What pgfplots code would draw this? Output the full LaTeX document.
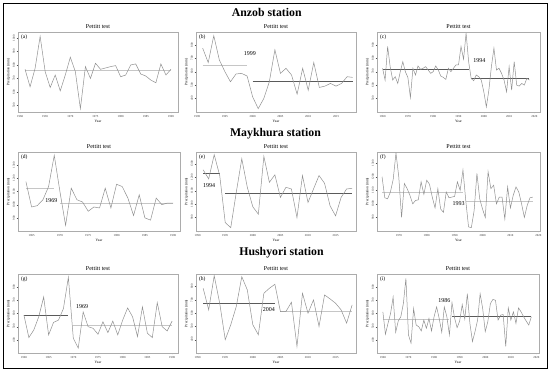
\documentclass[border=0pt]{standalone}
\usepackage{pgfplots}
\pgfplotsset{compat=1.18}
\usepackage{fontspec}
\setmainfont{Liberation Serif}
\definecolor{ser}{HTML}{909090}
\definecolor{mn}{HTML}{5A5A5A}
\tikzset{
  letter/.style={font=\fontsize{5.5}{6}\selectfont, anchor=north west, inner sep=0.5pt},
  cpl/.style={font=\fontsize{6}{7}\selectfont, inner sep=0.5pt},
  station/.style={font=\bfseries\fontsize{11.8}{13}\selectfont},
}
\pgfplotsset{
  /pgf/number format/set thousands separator={},
  /pgf/number format/assume math mode=true,
  panel/.style={
    scale only axis, anchor=south west,
    axis line style={gray!65, line width=0.4pt},
    tick style={gray!60!black, line width=0.3pt},
    major tick length=1.4pt,
    tick align=outside,
    xtick pos=left, ytick pos=left,
    tick label style={font=\fontsize{3}{3.5}\selectfont, text=black!80},
    yticklabel style={rotate=90, anchor=south, inner sep=1.5pt},
    xticklabel style={inner sep=1.8pt},
    label style={font=\fontsize{3.6}{4}\selectfont, inner sep=1pt},
    xlabel={Year}, ylabel={Precipitation (mm)},
    title={Pettitt test},
    title style={font=\fontsize{6}{7}\selectfont, yshift=-3pt, inner sep=0pt},
  },
  series/.style={ser, line width=0.5pt, no marks},
  mean/.style={mn, line width=0.55pt, no marks},
  lmean/.style={gray!45, line width=0.55pt, no marks},
}
\begin{document}
\begin{tikzpicture}[x=1pt,y=1pt]
\useasboundingbox (0,0) rectangle (550,-372);
\draw[line width=1pt] (3,-3.5) rectangle (547,-368.5);
\node[station] at (266.7,-12.7) {Anzob station};
\node[station] at (275.5,-134) {Maykhura station};
\node[station] at (281.5,-252.3) {Hushyori station};

% (a)
\begin{axis}[panel, at={(18pt,-112pt)}, width=160pt, height=80pt,
  xmin=1959.6, xmax=1991.4, ymin=450, ymax=1045,
  xtick={1960,1965,...,1990}, ytick={500,600,...,1000}]
\addplot[lmean] coordinates {(1961,762.5)(1990,762.5)};
\addplot[series] coordinates {(1961,767.5)(1962,637.5)(1963,775)(1964,1012.5)(1965,750)(1966,632.5)(1967,725)(1968,607.5)(1969,725)(1970,857.5)(1971,750)(1972,475)(1973,787.5)(1974,700)(1975,812.5)(1976,767.5)(1977,777.5)(1978,787.5)(1979,795)(1980,712.5)(1981,725)(1982,800)(1983,807.5)(1984,732.5)(1985,717.5)(1986,687.5)(1987,667.5)(1988,807.5)(1989,725)(1990,767.5)};
\node[letter] at (rel axis cs:0.015,0.97) {(a)};
\end{axis}

% (b)
\begin{axis}[panel, at={(196pt,-112pt)}, width=160pt, height=80pt,
  xmin=1989.8, xmax=2018.6, ymin=300, ymax=895,
  xtick={1990,1995,...,2015}, ytick={400,500,...,800}]
\addplot[lmean] coordinates {(1991,650)(1999,650)};
\addplot[mean] coordinates {(2000,530)(2018,530)};
\addplot[series] coordinates {(1991,775)(1992,667.5)(1993,867.5)(1994,687.5)(1995,600)(1996,525)(1997,582.5)(1998,587.5)(1999,567.5)(2000,412.5)(2001,325)(2002,400)(2003,525)(2004,762.5)(2005,587.5)(2006,625)(2007,575)(2008,432.5)(2009,625)(2010,462.5)(2011,667.5)(2012,482.5)(2013,492.5)(2014,512.5)(2015,492.5)(2016,512.5)(2017,562.5)(2018,557.5)};
\node[letter] at (rel axis cs:0.015,0.97) {(b)};
\node[cpl] at (axis cs:1999.5,737.5) {1999};
\end{axis}

% (c)
\begin{axis}[panel, at={(377pt,-112pt)}, width=163pt, height=80pt,
  xmin=1957.8, xmax=2022.2, ymin=400, ymax=995,
  xtick={1960,1970,...,2020}, ytick={500,600,...,900}]
\addplot[mean] coordinates {(1960,720)(1994,720)};
\addplot[mean] coordinates {(1995,647.5)(2018,647.5)};
\addplot[series] coordinates {(1960,725)(1961,637.5)(1962,887.5)(1963,737.5)(1964,637.5)(1965,662.5)(1966,612.5)(1967,700)(1968,775)(1969,700)(1970,657.5)(1971,507.5)(1972,725)(1973,675)(1974,742.5)(1975,717.5)(1976,725)(1977,737.5)(1978,712.5)(1979,687.5)(1980,700)(1981,742.5)(1982,712.5)(1983,667.5)(1984,657.5)(1985,642.5)(1986,725)(1987,700)(1988,725)(1989,750)(1990,750)(1991,887.5)(1992,792.5)(1993,987.5)(1994,775)(1995,650)(1996,632.5)(1997,675)(1998,662.5)(1999,637.5)(2000,550)(2001,437.5)(2002,562.5)(2003,737.5)(2004,875)(2005,712.5)(2006,725)(2007,687.5)(2008,637.5)(2009,550)(2010,737.5)(2011,562.5)(2012,775)(2013,600)(2014,592.5)(2015,612.5)(2016,600)(2017,650)(2018,637.5)};
\node[letter] at (rel axis cs:0.015,0.97) {(c)};
\node[cpl] at (axis cs:1998.2,780) {1994};
\end{axis}

% (d)
\begin{axis}[panel, at={(18pt,-231pt)}, width=162pt, height=79pt,
  xmin=1962.6, xmax=1991.2, ymin=800, ymax=1400,
  xtick={1965,1970,...,1990}, ytick={900,1000,...,1300}]
\addplot[lmean] coordinates {(1964,1125)(1969,1125)};
\addplot[lmean] coordinates {(1970,1012.5)(1990,1012.5)};
\addplot[series] coordinates {(1964,1175)(1965,982.5)(1966,992.5)(1967,1037.5)(1968,1137.5)(1969,1375)(1970,1100)(1971,842.5)(1972,1125)(1973,1037.5)(1974,1020)(1975,950)(1976,982.5)(1977,975)(1978,1125)(1979,975)(1980,1155)(1981,1137.5)(1982,1050)(1983,917.5)(1984,1075)(1985,900)(1986,882.5)(1987,1050)(1988,1000)(1989,1012.5)(1990,1012.5)};
\node[letter] at (rel axis cs:0.015,0.97) {(d)};
\node[cpl] at (axis cs:1968.5,1030) {1969};
\end{axis}

% (e)
\begin{axis}[panel, at={(196pt,-231pt)}, width=160pt, height=79pt,
  xmin=1989.7, xmax=2018.7, ymin=800, ymax=1387.5,
  xtick={1990,1995,...,2015}, ytick={900,1000,...,1300}]
\addplot[mean] coordinates {(1991,1230)(1994,1230)};
\addplot[mean] coordinates {(1995,1080)(2018,1080)};
\addplot[series] coordinates {(1991,1255)(1992,1187.5)(1993,1367.5)(1994,1212.5)(1995,862.5)(1996,825)(1997,1087.5)(1998,1337.5)(1999,1125)(2000,980)(2001,925)(2002,1355)(2003,1162.5)(2004,1217.5)(2005,1050)(2006,1125)(2007,1112.5)(2008,900)(2009,1212.5)(2010,1012.5)(2011,1112.5)(2012,1212.5)(2013,1155)(2014,987.5)(2015,912.5)(2016,1050)(2017,1112.5)(2018,1117.5)};
\node[letter] at (rel axis cs:0.015,0.97) {(e)};
\node[cpl] at (axis cs:1992.1,1137.5) {1994};
\end{axis}

% (f)
\begin{axis}[panel, at={(377pt,-231pt)}, width=163pt, height=79pt,
  xmin=1962.2, xmax=2020.6, ymin=800, ymax=1382.5,
  xtick={1970,1980,...,2020}, ytick={900,1000,...,1300}]
\addplot[lmean] coordinates {(1964,1087.5)(1993,1087.5)};
\addplot[lmean] coordinates {(1994,1020)(2018,1020)};
\addplot[series] coordinates {(1964,1200)(1965,1045)(1966,1037.5)(1967,1087.5)(1968,1180)(1969,1375)(1970,1200)(1971,900)(1972,1150)(1973,1112.5)(1974,1062.5)(1975,1000)(1976,1025)(1977,1030)(1978,1162.5)(1979,1070)(1980,1175)(1981,1145)(1982,1050)(1983,970)(1984,1112.5)(1985,962.5)(1986,937.5)(1987,1087.5)(1988,1045)(1989,1050)(1990,1055)(1991,1162.5)(1992,1100)(1993,1250)(1994,1025)(1995,830)(1996,825)(1997,950)(1998,1225)(1999,1037.5)(2000,962.5)(2001,900)(2002,1237.5)(2003,1112.5)(2004,1137.5)(2005,1000)(2006,1050)(2007,1050)(2008,887.5)(2009,1125)(2010,970)(2011,1062.5)(2012,1125)(2013,1087.5)(2014,1000)(2015,900)(2016,987.5)(2017,1045)(2018,1050)};
\node[letter] at (rel axis cs:0.015,0.97) {(f)};
\node[cpl] at (axis cs:1991.4,1005) {1993};
\end{axis}

% (g)
\begin{axis}[panel, at={(18pt,-353pt)}, width=160pt, height=79pt,
  xmin=1958.8, xmax=1991.2, ymin=300, ymax=900,
  xtick={1960,1965,...,1990}, ytick={400,500,...,800}]
\addplot[mean] coordinates {(1960,587.5)(1969,587.5)};
\addplot[lmean] coordinates {(1970,507.5)(1990,507.5)};
\addplot[series] coordinates {(1960,587.5)(1961,417.5)(1962,475)(1963,575)(1964,725)(1965,437.5)(1966,532.5)(1967,550)(1968,637.5)(1969,875)(1970,412.5)(1971,337.5)(1972,612.5)(1973,500)(1974,487.5)(1975,442.5)(1976,537.5)(1977,455)(1978,542.5)(1979,437.5)(1980,550)(1981,642.5)(1982,575)(1983,425)(1984,650)(1985,450)(1986,417.5)(1987,682.5)(1988,500)(1989,467.5)(1990,542.5)};
\node[letter] at (rel axis cs:0.015,0.97) {(g)};
\node[cpl] at (axis cs:1971.8,655) {1969};
\end{axis}

% (h)
\begin{axis}[panel, at={(196pt,-353pt)}, width=160pt, height=79pt,
  xmin=1989.7, xmax=2018.7, ymin=300, ymax=895,
  xtick={1990,1995,...,2015}, ytick={400,500,...,800}]
\addplot[mean] coordinates {(1991,675)(2004,675)};
\addplot[lmean] coordinates {(2005,617.5)(2018,617.5)};
\addplot[series] coordinates {(1991,787.5)(1992,625)(1993,882.5)(1994,675)(1995,400)(1996,512.5)(1997,650)(1998,875)(1999,775)(2000,512.5)(2001,437.5)(2002,750)(2003,787.5)(2004,817.5)(2005,612.5)(2006,612.5)(2007,682.5)(2008,350)(2009,750)(2010,600)(2011,700)(2012,500)(2013,737.5)(2014,707.5)(2015,675)(2016,625)(2017,525)(2018,662.5)};
\node[letter] at (rel axis cs:0.015,0.97) {(h)};
\node[cpl] at (axis cs:2002.9,625) {2004};
\end{axis}

% (i)
\begin{axis}[panel, at={(377pt,-353pt)}, width=162pt, height=79pt,
  xmin=1957.7, xmax=2021, ymin=300, ymax=900,
  xtick={1960,1970,...,2020}, ytick={400,500,...,800}]
\addplot[lmean] coordinates {(1960,557.5)(1986,557.5)};
\addplot[mean] coordinates {(1987,580)(2018,580)};
\addplot[series] coordinates {(1960,612.5)(1961,442.5)(1962,525)(1963,600)(1964,725)(1965,457.5)(1966,542.5)(1967,575)(1968,675)(1969,867.5)(1970,437.5)(1971,375)(1972,637.5)(1973,512.5)(1974,500)(1975,467.5)(1976,550)(1977,487.5)(1978,562.5)(1979,467.5)(1980,575)(1981,650)(1982,562.5)(1983,457.5)(1984,650)(1985,575)(1986,437.5)(1987,682.5)(1988,567.5)(1989,492.5)(1990,542.5)(1991,667.5)(1992,557.5)(1993,750)(1994,525)(1995,387.5)(1996,462.5)(1997,550)(1998,750)(1999,637.5)(2000,462.5)(2001,537.5)(2002,675)(2003,707.5)(2004,700)(2005,550)(2006,587.5)(2007,592.5)(2008,350)(2009,642.5)(2010,550)(2011,612.5)(2012,525)(2013,642.5)(2014,612.5)(2015,575)(2016,542.5)(2017,512.5)(2018,575)};
\node[letter] at (rel axis cs:0.015,0.97) {(i)};
\node[cpl] at (axis cs:1984,700) {1986};
\end{axis}
\end{tikzpicture}
\end{document}
